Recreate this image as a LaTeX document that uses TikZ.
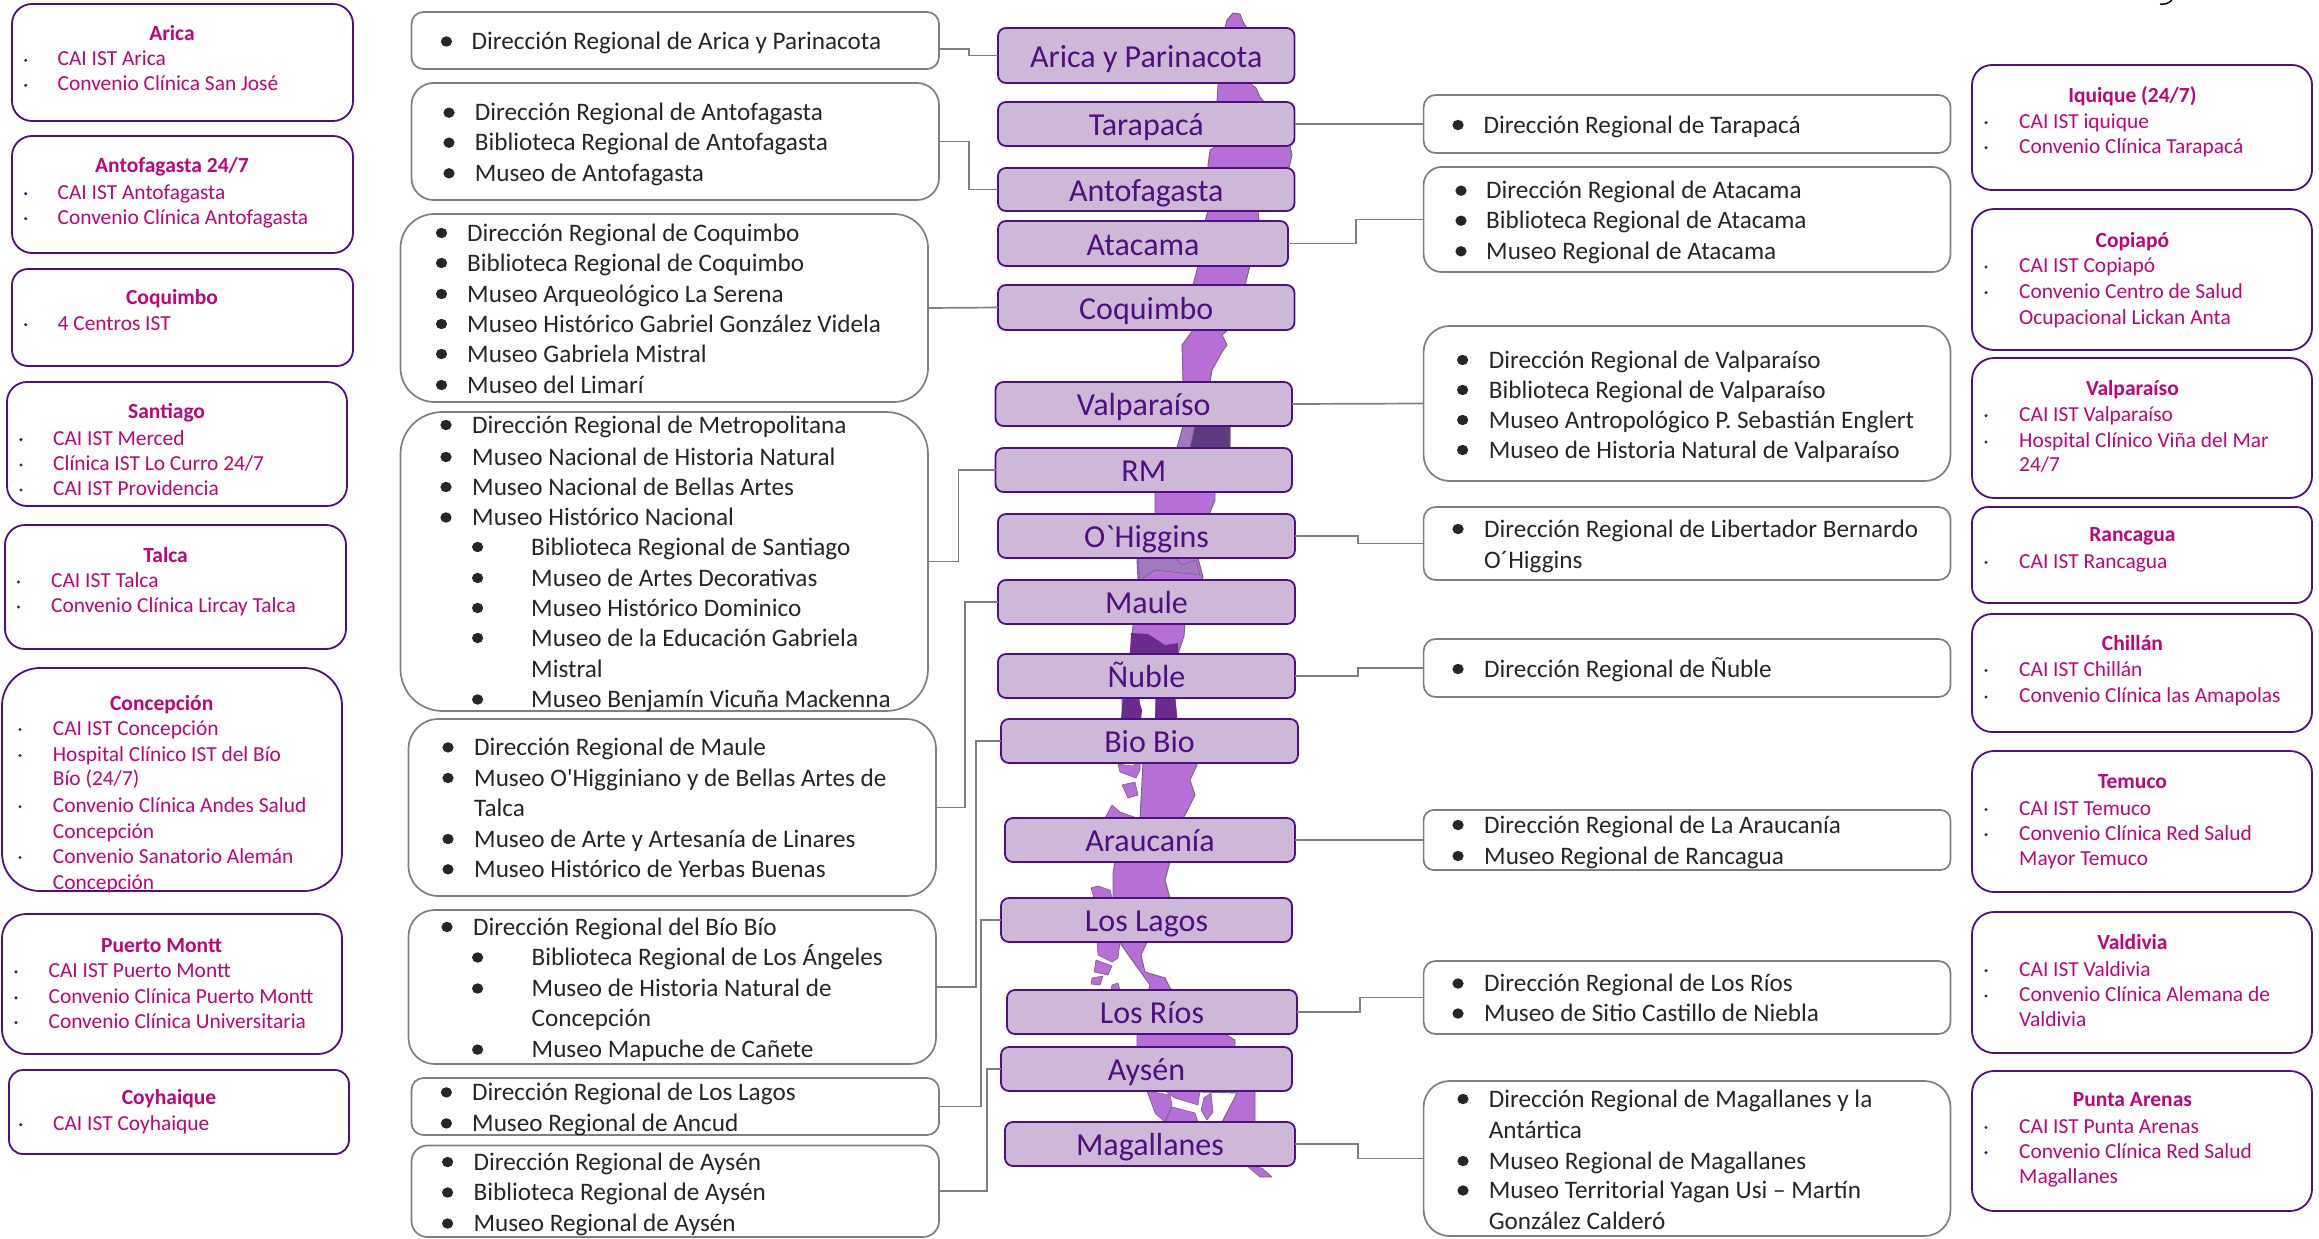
\documentclass[tikz,border=0pt]{standalone}
\usepackage{fontspec}
\newfontfamily\carl{Carlito}
\definecolor{grayline}{HTML}{7F7F7F}
\definecolor{purpline}{HTML}{4F0F80}
\definecolor{nodefill}{HTML}{CDB8D8}
\definecolor{pinktxt}{HTML}{C0047C}
\definecolor{blacktxt}{HTML}{262626}
\definecolor{mapfill}{HTML}{B56FD6}
\definecolor{mapdark}{HTML}{6D2A8E}
\definecolor{mapdarker}{HTML}{5E3A80}
\definecolor{mapmid}{HTML}{A278BE}
\definecolor{mapedge}{HTML}{75627F}
\tikzset{
  graybox/.style={draw=grayline,line width=1.7pt,fill=white,rectangle,inner sep=0pt,outer sep=0pt},
  pinkbox/.style={draw=purpline,line width=1.8pt,fill=white,rectangle,inner sep=0pt,outer sep=0pt},
  regionbox/.style={draw=purpline,line width=1.8pt,fill=nodefill,rectangle,inner sep=0pt,outer sep=0pt,text=purpline,font=\carl\fontsize{32}{34}\selectfont,text height=29.5pt,text depth=6pt},
  conn/.style={draw=grayline,line width=1.7pt},
  bktext/.style={anchor=base west,inner sep=0pt,text=blacktxt,font=\carl\fontsize{25.2}{28}\selectfont},
  pktext/.style={anchor=base west,inner sep=0pt,text=pinktxt,font=\carl\fontsize{21.4}{24}\selectfont},
  pktitle/.style={anchor=base,inner sep=0pt,text=pinktxt,font=\carl\bfseries\fontsize{21.5}{24}\selectfont},
  mapshape/.style={fill=mapfill,draw=mapedge,line width=0.9pt,line join=round},
}
\newcounter{tn}
\newcommand\bxx[7]{\node[#1,rounded corners=#7pt,minimum width={(#5-#3)*1pt},minimum height={(#6-#4)*1pt}] (#2) at ({(#3+#5)/2},{(#4+#6)/2}) {};}
\newcommand\rgn[6]{\node[regionbox,rounded corners=8pt,minimum width={(#5-#3)*1pt},minimum height={(#6-#4)*1pt}] (#1) at ({(#3+#5)/2},{(#4+#6)/2}) {#2};}
\newcommand\bkt[3]{\stepcounter{tn}\node[bktext] (t\arabic{tn}) at (#1,{#2+8}) {#3};}
\newcommand\bkl[4]{\fill[blacktxt] (#1,#3) ellipse (5.6 and 5.2);\bkt{#2}{#3}{#4}}
\newcommand\pkc[3]{\stepcounter{tn}\node[pktext] (t\arabic{tn}) at (#1,{#2+7.5}) {#3};}
\newcommand\pkl[4]{\fill[purpline] (#1,{#3+2}) circle (1.7);\pkc{#2}{#3}{#4}}
\newcommand\pkh[3]{\stepcounter{tn}\node[pktitle] (t\arabic{tn}) at (#1,{#2+7.5}) {#3};}
\begin{document}
\begin{tikzpicture}[x=1pt,y=-1pt]
\useasboundingbox (0,0) rectangle (2319,1239);
\fill[white] (0,0) rectangle (2319,1239);
% map
\path[mapshape] (1233,13) -- (1240,14) -- (1243,22) -- (1247,28) -- (1252,85) -- (1256,88) -- (1260,97) -- (1264,102) -- (1290,146) -- (1292,155) -- (1289,168) -- (1285,190) -- (1258,211) -- (1259,221) -- (1250,266) -- (1245,285) -- (1228,330) -- (1222,335) -- (1227,345) -- (1222,352) -- (1212,370) -- (1210,382) -- (1230,426) -- (1230,448) -- (1215,492) -- (1215,500) -- (1210,512) -- (1198,558) -- (1203,577) -- (1185,624) -- (1184,636) -- (1178,654) -- (1175,698) -- (1177,719) -- (1197,765) -- (1190,780) -- (1195,795) -- (1185,815) -- (1183,818) -- (1170,862) -- (1165,880) -- (1170,898) -- (1147,942) -- (1141,955) -- (1145,972) -- (1165,978) -- (1170,988) -- (1225,1034) -- (1235,1040) -- (1235,1047) -- (1255,1091) -- (1255,1122) -- (1240,1130) -- (1222,1122) -- (1237,1093) -- (1165,1091) -- (1137,1047) -- (1137,1034) -- (1150,985) -- (1137,967) -- (1120,943) -- (1113,898) -- (1113,873) -- (1115,862) -- (1140,818) -- (1143,763) -- (1122,719) -- (1122,698) -- (1130,654) -- (1138,580) -- (1137,560) -- (1155,514) -- (1155,492) -- (1177,448) -- (1183,426) -- (1183,382) -- (1182,345) -- (1193,330) -- (1193,285) -- (1198,266) -- (1205,221) -- (1208,211) -- (1208,165) -- (1210,150) -- (1217,146) -- (1217,102) -- (1218,85) -- (1225,28) -- (1227,20) -- cycle;
\fill[mapmid,draw=mapedge,line width=0.6pt] (1183,426) -- (1195,426) -- (1190,448) -- (1177,448) -- cycle;
\fill[mapdarker,draw=mapedge,line width=0.6pt] (1190,448) -- (1195,426) -- (1230,426) -- (1230,448) -- cycle;
\fill[mapmid,draw=mapedge,line width=0.6pt] (1138,558) -- (1175,558) -- (1182,565) -- (1196,560) -- (1200,575) -- (1155,570) -- (1140,580) -- cycle;
\fill[mapdark] (1131,633) -- (1148,634) -- (1165,645) -- (1178,643) -- (1178,654) -- (1130,654) -- cycle;
\fill[white] (1140,697) -- (1155,697) -- (1155,720) -- (1140,720) -- cycle;
\fill[mapdark] (1123,697) -- (1138,697) -- (1142,710) -- (1141,720) -- (1121,720) -- cycle;
\fill[mapdark] (1156,697) -- (1175,697) -- (1177,719) -- (1155,719) -- cycle;
% islands
\path[mapshape,line width=0.6pt] (1118,764) -- (1132,766) -- (1140,762) -- (1140,770) -- (1136,778) -- (1120,772) -- cycle;
\path[mapshape,line width=0.6pt] (1122,785) -- (1135,782) -- (1138,795) -- (1128,798) -- cycle;
\path[mapshape,line width=0.6pt] (1105,818) -- (1112,805) -- (1120,812) -- (1137,818) -- cycle;
\path[mapshape,line width=0.6pt] (1091,888) -- (1098,886) -- (1110,890) -- (1112,898) -- (1094,898) -- cycle;
\path[mapshape,line width=0.6pt] (1097,942) -- (1120,942) -- (1118,958) -- (1112,962) -- (1098,955) -- cycle;
\path[mapshape,line width=0.6pt] (1096,960) -- (1112,966) -- (1108,975) -- (1094,972) -- cycle;
\path[mapshape,line width=0.6pt] (1092,978) -- (1103,976) -- (1100,985) -- (1091,984) -- cycle;
\path[mapshape,line width=0.6pt] (1112,985) -- (1118,983) -- (1120,990) -- (1111,990) -- cycle;
\path[mapshape,line width=0.6pt] (1147,1091) -- (1170,1095) -- (1172,1105) -- (1165,1122) -- (1155,1113) -- cycle;
\path[mapshape,line width=0.6pt] (1172,1107) -- (1195,1113) -- (1198,1122) -- (1165,1122) -- cycle;
\path[mapshape,line width=0.6pt] (1165,1091) -- (1200,1091) -- (1198,1105) -- (1175,1098) -- cycle;
\path[mapshape,line width=0.6pt] (1204,1098) -- (1211,1093) -- (1213,1112) -- (1207,1120) -- (1201,1110) -- cycle;
\path[mapshape,line width=0.6pt] (1247,1166) -- (1262,1168) -- (1272,1177) -- (1260,1177) -- cycle;
% clipped text fragment top right
\draw[black,line width=1.4pt] (2160,4) .. controls (2165,5) and (2169,3) .. (2172,0);
% regions
\rgn{nArica}{Arica y Parinacota}{998}{28}{1294.5}{83}
\rgn{nTara}{Tarapacá}{998}{102}{1294.5}{146}
\rgn{nAnto}{Antofagasta}{998}{168}{1294.5}{211}
\rgn{nAtac}{Atacama}{998}{221}{1288}{266}
\rgn{nCoq}{Coquimbo}{998}{285}{1294.5}{330}
\rgn{nValp}{Valparaíso}{995.5}{382}{1292}{426}
\rgn{nRM}{RM}{995.5}{448}{1292}{492}
\rgn{nOH}{O`Higgins}{998}{514}{1295}{558}
\rgn{nMaule}{Maule}{998}{580}{1295}{624}
\rgn{nNuble}{Ñuble}{998}{654}{1295}{698}
\rgn{nBio}{Bio Bio}{1001}{719}{1298}{763}
\rgn{nArau}{Araucanía}{1005}{818}{1295}{862}
\rgn{nLagos}{Los Lagos}{1001}{898}{1292}{942}
\rgn{nRios}{Los Ríos}{1007}{990}{1297}{1034}
\rgn{nAysen}{Aysén}{1001}{1047}{1292}{1091}
\rgn{nMag}{Magallanes}{1005}{1122}{1295}{1166}
% left gray boxes
\bxx{graybox}{gArica}{411.5}{12}{939}{69}{12}
\bxx{graybox}{gAnto}{411.5}{83}{939}{200}{22}
\bxx{graybox}{gCoq}{400.5}{214}{928}{402}{34}
\bxx{graybox}{gMet}{400.5}{412}{928}{711}{42}
\bxx{graybox}{gMaule}{408.5}{719}{936}{896}{30}
\bxx{graybox}{gBio}{408.5}{910}{936}{1064}{26}
\bxx{graybox}{gLagos}{411.5}{1078}{939}{1135}{12}
\bxx{graybox}{gAysen}{411.5}{1145.5}{939}{1237}{16}
% right gray boxes
\bxx{graybox}{gTara}{1423.6}{95}{1950.5}{153}{12}
\bxx{graybox}{gAtac}{1423.6}{167}{1950.5}{272}{18}
\bxx{graybox}{gValp}{1423.6}{326}{1950.5}{481}{26}
\bxx{graybox}{gOH}{1423.6}{507}{1950.5}{580}{12}
\bxx{graybox}{gNuble}{1423.6}{639}{1950.5}{697}{12}
\bxx{graybox}{gArau}{1423.6}{810}{1950.5}{870}{10}
\bxx{graybox}{gRios}{1423.6}{961}{1950.5}{1034}{12}
\bxx{graybox}{gMag}{1423.6}{1081}{1950.5}{1236}{26}
% left pink boxes
\bxx{pinkbox}{pArica}{12}{4}{353}{121}{20}
\bxx{pinkbox}{pAnto}{12}{136}{353}{253}{20}
\bxx{pinkbox}{pCoq}{12}{269}{353}{366}{16}
\bxx{pinkbox}{pSant}{7}{382}{347}{506}{20}
\bxx{pinkbox}{pTalca}{5}{525}{346}{649}{20}
\bxx{pinkbox}{pConc}{2}{668}{342}{891}{38}
\bxx{pinkbox}{pPM}{2}{914}{342}{1054}{24}
\bxx{pinkbox}{pCoy}{9}{1070}{349}{1154}{14}
% right pink boxes
\bxx{pinkbox}{pIq}{1972}{65}{2312}{190}{20}
\bxx{pinkbox}{pCop}{1972}{209}{2312}{350}{22}
\bxx{pinkbox}{pVal}{1972}{358}{2312}{498}{22}
\bxx{pinkbox}{pRan}{1972}{507}{2312}{603}{16}
\bxx{pinkbox}{pChi}{1972}{614}{2312}{732}{20}
\bxx{pinkbox}{pTem}{1972}{751}{2312}{892}{22}
\bxx{pinkbox}{pVald}{1972}{912}{2312}{1053}{22}
\bxx{pinkbox}{pPA}{1972}{1071}{2312}{1211}{22}
% connectors
\draw[conn] (gArica.east |- 0,48.7) -| (968.7,55.5) -- (nArica.west);
\draw[conn] (gAnto.east) -| (968.7,189.5) -- (nAnto.west);
\draw[conn] (gCoq.east) -- (nCoq.west);
\draw[conn] (gMet.east) -| (958.5,470) -- (nRM.west);
\draw[conn] (gMaule.east) -| (965,602) -- (nMaule.west);
\draw[conn] (gBio.east) -| (976,741) -- (nBio.west);
\draw[conn] (gLagos.east) -| (981,920) -- (nLagos.west);
\draw[conn] (gAysen.east) -| (987.3,1069) -- (nAysen.west);
\draw[conn] (nTara.east) -- (gTara.west);
\draw[conn] (nAtac.east) -| (1355.7,219.5) -- (gAtac.west);
\draw[conn] (nValp.east) -- (gValp.west);
\draw[conn] (nOH.east) -| (1358,543.5) -- (gOH.west);
\draw[conn] (nNuble.east) -| (1358,668) -- (gNuble.west);
\draw[conn] (nArau.east) -- (gArau.west);
\draw[conn] (nRios.east) -| (1360,997.5) -- (gRios.west);
\draw[conn] (nMag.east) -| (1358,1158.5) -- (gMag.west);
% left black text
\bkl{446.4}{471.5}{41.5}{Dirección Regional de Arica y Parinacota}
\bkl{449}{474.6}{112.7}{Dirección Regional de Antofagasta}
\bkl{449}{474.6}{142.7}{Biblioteca Regional de Antofagasta}
\bkl{449}{474.6}{173.3}{Museo de Antofagasta}
\bkl{441.5}{467}{233}{Dirección Regional de Coquimbo}
\bkl{441.5}{467}{263}{Biblioteca Regional de Coquimbo}
\bkl{441.5}{467}{294}{Museo Arqueológico La Serena}
\bkl{441.5}{467}{324}{Museo Histórico Gabriel González Videla}
\bkl{441.5}{467}{354}{Museo Gabriela Mistral}
\bkl{441.5}{467}{385}{Museo del Limarí}
\bkl{446}{472}{425}{Dirección Regional de Metropolitana}
\bkl{446}{472}{457}{Museo Nacional de Historia Natural}
\bkl{446}{472}{487}{Museo Nacional de Bellas Artes}
\bkl{446}{472}{517.5}{Museo Histórico Nacional}
\bkl{477.6}{531}{547}{Biblioteca Regional de Santiago}
\bkl{477.6}{531}{578}{Museo de Artes Decorativas}
\bkl{477.6}{531}{608}{Museo Histórico Dominico}
\bkl{477.6}{531}{638}{Museo de la Educación Gabriela}
\bkt{531}{669}{Mistral}
\bkl{477.6}{531}{699.5}{Museo Benjamín Vicuña Mackenna}
\bkl{448}{474}{747.4}{Dirección Regional de Maule}
\bkl{448}{474}{778}{Museo O'Higginiano y de Bellas Artes de}
\bkt{474}{808.5}{Talca}
\bkl{448}{474}{839}{Museo de Arte y Artesanía de Linares}
\bkl{448}{474}{869.3}{Museo Histórico de Yerbas Buenas}
\bkl{447}{473}{927}{Dirección Regional del Bío Bío}
\bkl{477.6}{531.5}{957.5}{Biblioteca Regional de Los Ángeles}
\bkl{477.6}{531.5}{988.5}{Museo de Historia Natural de}
\bkt{531.5}{1018}{Concepción}
\bkl{477.6}{531.5}{1049.6}{Museo Mapuche de Cañete}
\bkl{446.4}{472}{1092.4}{Dirección Regional de Los Lagos}
\bkl{446.4}{472}{1123.4}{Museo Regional de Ancud}
\bkl{447.6}{473.4}{1162}{Dirección Regional de Aysén}
\bkl{447.6}{473.4}{1192.5}{Biblioteca Regional de Aysén}
\bkl{447.6}{473.4}{1223.5}{Museo Regional de Aysén}
% right black text
\bkl{1458}{1483.4}{125}{Dirección Regional de Tarapacá}
\bkl{1461}{1486}{190.7}{Dirección Regional de Atacama}
\bkl{1461}{1486}{220.7}{Biblioteca Regional de Atacama}
\bkl{1461}{1486}{251.3}{Museo Regional de Atacama}
\bkl{1462.6}{1488.6}{360}{Dirección Regional de Valparaíso}
\bkl{1462.6}{1488.6}{390}{Biblioteca Regional de Valparaíso}
\bkl{1462.6}{1488.6}{420}{Museo Antropológico P. Sebastián Englert}
\bkl{1462.6}{1488.6}{450}{Museo de Historia Natural de Valparaíso}
\bkl{1458}{1484}{529}{Dirección Regional de Libertador Bernardo}
\bkt{1484}{560}{O´Higgins}
\bkl{1458}{1484}{669}{Dirección Regional de Ñuble}
\bkl{1458}{1484}{825}{Dirección Regional de La Araucanía}
\bkl{1458}{1484}{856}{Museo Regional de Rancagua}
\bkl{1458}{1484}{983.5}{Dirección Regional de Los Ríos}
\bkl{1458}{1484}{1013.5}{Museo de Sitio Castillo de Niebla}
\bkl{1463}{1488.6}{1099}{Dirección Regional de Magallanes y la}
\bkt{1488.6}{1130}{Antártica}
\bkl{1463}{1488.6}{1161}{Museo Regional de Magallanes}
\bkl{1463}{1488.6}{1190.5}{Museo Territorial Yagan Usi – Martín}
\bkt{1488.6}{1221.6}{González Calderó}
% left pink text
\pkh{172}{32.7}{Arica}
\pkl{25.7}{57.5}{58.3}{CAI IST Arica}
\pkl{25.7}{57.5}{83.3}{Convenio Clínica San José}
\pkh{172}{165.3}{Antofagasta 24/7}
\pkl{25.7}{57.5}{191.7}{CAI IST Antofagasta}
\pkl{25.7}{57.5}{216.7}{Convenio Clínica Antofagasta}
\pkh{172}{297.3}{Coquimbo}
\pkl{25.7}{57.5}{322.7}{4 Centros IST}
\pkh{166.6}{411}{Santiago}
\pkl{21}{53}{437.6}{CAI IST Merced}
\pkl{21}{53}{463}{Clínica IST Lo Curro 24/7}
\pkl{21}{53}{488}{CAI IST Providencia}
\pkh{165.6}{554.6}{Talca}
\pkl{18.5}{51}{580}{CAI IST Talca}
\pkl{18.5}{51}{605}{Convenio Clínica Lircay Talca}
\pkh{161.7}{702.7}{Concepción}
\pkl{20}{52.7}{727.5}{CAI IST Concepción}
\pkl{20}{52.7}{753.5}{Hospital Clínico IST del Bío}
\pkc{52.7}{778.3}{Bío (24/7)}
\pkl{20}{52.7}{804.7}{Convenio Clínica Andes Salud}
\pkc{52.7}{830.7}{Concepción}
\pkl{20}{52.7}{855.5}{Convenio Sanatorio Alemán}
\pkc{52.7}{881.5}{Concepción}
\pkh{161.7}{944.5}{Puerto Montt}
\pkl{16}{48.4}{969.8}{CAI IST Puerto Montt}
\pkl{16}{48.4}{995.8}{Convenio Clínica Puerto Montt}
\pkl{16}{48.4}{1020.6}{Convenio Clínica Universitaria}
\pkh{169}{1096.6}{Coyhaique}
\pkl{20.8}{53}{1122.6}{CAI IST Coyhaique}
% right pink text
\pkh{2132.4}{95}{Iquique (24/7)}
\pkl{1986}{2019}{120.7}{CAI IST iquique}
\pkl{1986}{2019}{145.7}{Convenio Clínica Tarapacá}
\pkh{2132.4}{240}{Copiapó}
\pkl{1986}{2019}{265}{CAI IST Copiapó}
\pkl{1986}{2019}{290.7}{Convenio Centro de Salud}
\pkc{2019}{316.7}{Ocupacional Lickan Anta}
\pkh{2132.4}{387.7}{Valparaíso}
\pkl{1986}{2019}{413.7}{CAI IST Valparaíso}
\pkl{1986}{2019}{440}{Hospital Clínico Viña del Mar}
\pkc{2019}{464.3}{24/7}
\pkh{2132.4}{534}{Rancagua}
\pkl{1986}{2019}{560.5}{CAI IST Rancagua}
\pkh{2132.4}{643}{Chillán}
\pkl{1986}{2019}{668.5}{CAI IST Chillán}
\pkl{1986}{2019}{695}{Convenio Clínica las Amapolas}
\pkh{2132.4}{781}{Temuco}
\pkl{1986}{2019}{807.5}{CAI IST Temuco}
\pkl{1986}{2019}{832.7}{Convenio Clínica Red Salud}
\pkc{2019}{858}{Mayor Temuco}
\pkh{2132.4}{942}{Valdivia}
\pkl{1986}{2019}{968.7}{CAI IST Valdivia}
\pkl{1986}{2019}{994}{Convenio Clínica Alemana de}
\pkc{2019}{1019}{Valdivia}
\pkh{2132.4}{1099}{Punta Arenas}
\pkl{1986}{2019}{1125.5}{CAI IST Punta Arenas}
\pkl{1986}{2019}{1150.6}{Convenio Clínica Red Salud}
\pkc{2019}{1176}{Magallanes}
\end{tikzpicture}
\end{document}
